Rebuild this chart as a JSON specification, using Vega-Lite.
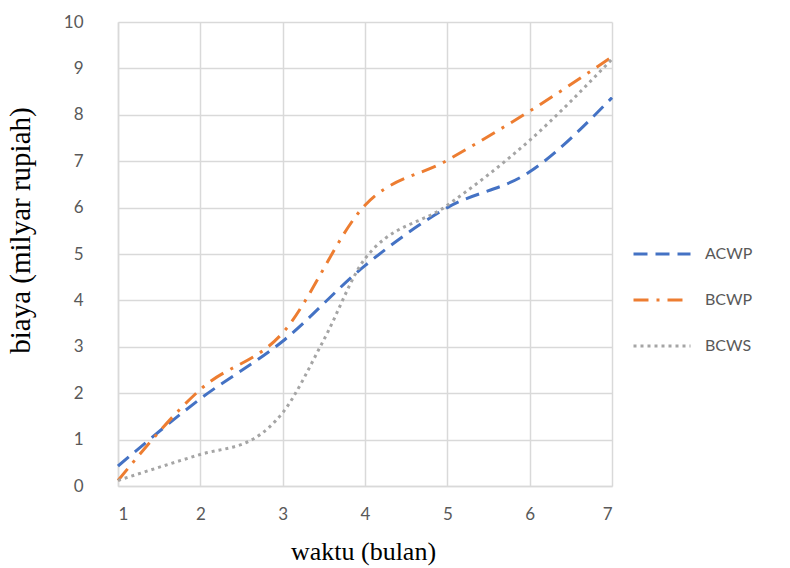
{
  "$schema": "https://vega.github.io/schema/vega-lite/v6.json",
  "width": 494,
  "height": 464,
  "autosize": {"type": "none"},
  "padding": {"left": 118, "top": 22, "right": 178, "bottom": 82},
  "background": "white",
  "config": {
    "view": {"stroke": null},
    "axis": {
      "ticks": false,
      "domainColor": "#D9D9D9",
      "domainWidth": 1.5,
      "gridColor": "#D9D9D9",
      "gridWidth": 1.5,
      "labelFont": "Lato",
      "labelFontSize": 17,
      "labelColor": "#595959",
      "titleFont": "Liberation Serif",
      "titleFontWeight": "normal",
      "titleColor": "#000000"
    },
    "legend": {
      "orient": "none",
      "legendX": 514,
      "legendY": 222,
      "padding": 0,
      "symbolType": "stroke",
      "symbolSize": 3249,
      "symbolStrokeWidth": 3,
      "labelFont": "Lato",
      "labelFontSize": 16,
      "labelColor": "#595959",
      "labelOffset": 13,
      "rowPadding": 26,
      "clipHeight": 20
    }
  },
  "data": {
    "values": [
      {"bulan": 1, "biaya": 0.43, "seri": "ACWP"},
      {"bulan": 2, "biaya": 1.88, "seri": "ACWP"},
      {"bulan": 3, "biaya": 3.12, "seri": "ACWP"},
      {"bulan": 4, "biaya": 4.75, "seri": "ACWP"},
      {"bulan": 5, "biaya": 6.0, "seri": "ACWP"},
      {"bulan": 6, "biaya": 6.77, "seri": "ACWP"},
      {"bulan": 7, "biaya": 8.37, "seri": "ACWP"},
      {"bulan": 1, "biaya": 0.12, "seri": "BCWP"},
      {"bulan": 2, "biaya": 2.08, "seri": "BCWP"},
      {"bulan": 3, "biaya": 3.3, "seri": "BCWP"},
      {"bulan": 4, "biaya": 6.05, "seri": "BCWP"},
      {"bulan": 5, "biaya": 7.02, "seri": "BCWP"},
      {"bulan": 6, "biaya": 8.08, "seri": "BCWP"},
      {"bulan": 7, "biaya": 9.25, "seri": "BCWP"},
      {"bulan": 1, "biaya": 0.12, "seri": "BCWS"},
      {"bulan": 2, "biaya": 0.68, "seri": "BCWS"},
      {"bulan": 2.65, "biaya": 1.02, "seri": "BCWS"},
      {"bulan": 3, "biaya": 1.58, "seri": "BCWS"},
      {"bulan": 3.5, "biaya": 3.15, "seri": "BCWS"},
      {"bulan": 4, "biaya": 4.9, "seri": "BCWS"},
      {"bulan": 5, "biaya": 6.05, "seri": "BCWS"},
      {"bulan": 6, "biaya": 7.45, "seri": "BCWS"},
      {"bulan": 7, "biaya": 9.2, "seri": "BCWS"}
    ]
  },
  "mark": {"type": "line", "interpolate": "monotone", "strokeWidth": 3},
  "encoding": {
    "x": {
      "field": "bulan",
      "type": "quantitative",
      "scale": {"domain": [1, 7], "nice": false, "zero": false},
      "axis": {
        "values": [1, 2, 3, 4, 5, 6, 7],
        "labelPadding": 20,
        "title": "waktu (bulan)",
        "titleFontSize": 26,
        "titleX": 245,
        "titleY": 65,
        "titleBaseline": "middle",
        "titleAlign": "center"
      }
    },
    "y": {
      "field": "biaya",
      "type": "quantitative",
      "scale": {"domain": [0, 10], "nice": false},
      "axis": {
        "values": [0, 1, 2, 3, 4, 5, 6, 7, 8, 9, 10],
        "labelPadding": 35,
        "title": "biaya (milyar rupiah)",
        "titleFontSize": 29,
        "titleX": -98,
        "titleY": 208,
        "titleAngle": -90,
        "titleBaseline": "middle",
        "titleAlign": "center"
      }
    },
    "color": {
      "field": "seri",
      "type": "nominal",
      "scale": {"domain": ["ACWP", "BCWP", "BCWS"], "range": ["#4472C4", "#ED7D31", "#A5A5A5"]},
      "legend": {"title": null}
    },
    "strokeDash": {
      "field": "seri",
      "type": "nominal",
      "scale": {"domain": ["ACWP", "BCWP", "BCWS"], "range": [[14, 8], [15, 8, 3, 8], [3, 4]]},
      "legend": {"title": null}
    }
  }
}
